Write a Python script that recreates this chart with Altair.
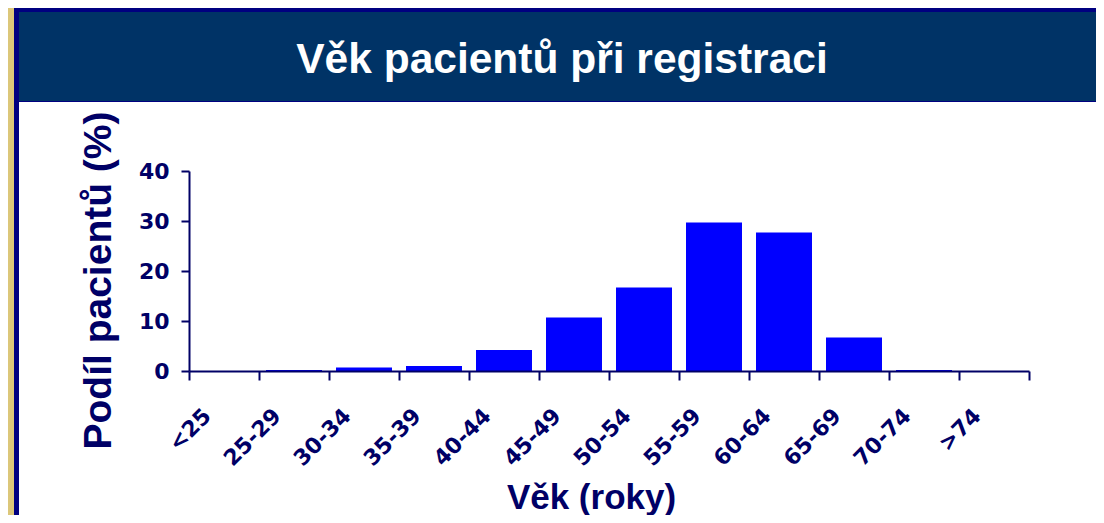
import altair as alt
import pandas as pd

categories = ["<25", "25-29", "30-34", "35-39", "40-44", "45-49",
              "50-54", "55-59", "60-64", "65-69", "70-74", ">74"]
values = [0.0, 0.2, 0.7, 1.0, 4.2, 10.7, 16.7, 29.7, 27.7, 6.7, 0.2, 0.0]
y_ticks = [0, 10, 20, 30, 40]
title_text = "Věk pacientů při registraci"
x_title = "Věk (roky)"
y_title = "Podíl pacientů (%)"

df = pd.DataFrame({"age": categories, "pct": values})

NAVY = "#000066"
FONT = "Liberation Sans"
TICKFONT = "DejaVu Sans"
W, H = 840, 200
one = alt.Data(values=[{}])

frame = alt.Chart(one).mark_rect(color="#000080").encode(
    x=alt.value(-175), x2=alt.value(915), y=alt.value(-164), y2=alt.value(360))
band = alt.Chart(one).mark_rect(color="#003366").encode(
    x=alt.value(-170), x2=alt.value(913), y=alt.value(-159), y2=alt.value(-70))
panel = alt.Chart(one).mark_rect(color="#FFFFFF").encode(
    x=alt.value(-170), x2=alt.value(912), y=alt.value(-69), y2=alt.value(360))
title = alt.Chart(one).mark_text(
    text=title_text, font=FONT, fontSize=42.5, fontWeight="bold", color="#FFFFFF",
    align="center", baseline="alphabetic").encode(x=alt.value(373), y=alt.value(-98))

bars = alt.Chart(df).mark_bar(color="#0000FF", width=alt.RelativeBandSize(0.8)).encode(
    x=alt.X("age:N", sort=categories,
            scale=alt.Scale(paddingInner=0, paddingOuter=0),
            axis=alt.Axis(title=x_title, tickBand="extent", labelAngle=-45,
                          labelAlign="right", labelBaseline="middle",
                          labelFont=TICKFONT, labelFontSize=22, labelFontWeight="bold",
                          labelColor=NAVY, labelPadding=32, labelOffset=-17,
                          tickSize=9, tickWidth=2, tickColor=NAVY,
                          domainColor=NAVY, domainWidth=2,
                          titleFont=FONT, titleFontSize=35, titleFontWeight="bold",
                          titleColor=NAVY, titleX=402, titleY=137,
                          titleAlign="center", titleBaseline="alphabetic",
                          zindex=1)),
    y=alt.Y("pct:Q", scale=alt.Scale(domain=[0, 40], nice=False),
            axis=alt.Axis(title=y_title, values=y_ticks, grid=False,
                          labelFont=TICKFONT, labelFontSize=22, labelFontWeight="bold",
                          labelColor=NAVY, labelPadding=12,
                          tickSize=8, tickWidth=2, tickColor=NAVY,
                          domainColor=NAVY, domainWidth=2,
                          titleFont=FONT, titleFontSize=39, titleFontWeight="bold",
                          titleColor=NAVY, titleX=-79, titleY=109, titleAngle=-90,
                          titleAlign="center", titleBaseline="alphabetic",
                          zindex=1)),
)

chart = alt.layer(frame, band, panel, title, bars).properties(
    width=W, height=H,
    background="#DCC77A",
    padding={"left": 181, "top": 163, "right": 67, "bottom": 144},
    autosize=alt.AutoSizeParams(type="none"),
).configure_view(stroke=None)

chart.save("out.html", embed_options={"renderer": "svg", "actions": False})
